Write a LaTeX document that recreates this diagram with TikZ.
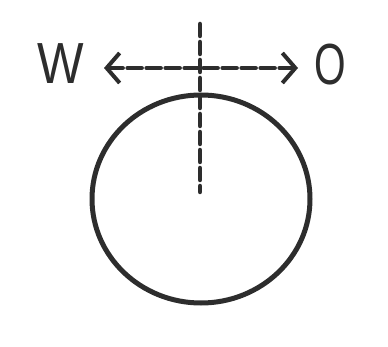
\documentclass[tikz,border=0pt]{standalone}
\usepackage{fontspec}
\setmainfont{Liberation Sans}
\usepackage{tikz}
\usetikzlibrary{arrows.meta,positioning}
\definecolor{pencil}{RGB}{45,45,45}
\tikzset{
  sketch/.style={draw=pencil,line width=4.5pt,line cap=round},
  dirlabel/.style={text=pencil,font=\fontsize{58}{58}\selectfont,inner sep=0pt},
  dirarrow/.style={sketch,{Straight Barb[length=13pt,width=30pt,line width=4pt]}-{Straight Barb[length=13pt,width=30pt,line width=4pt]}}
}

\begin{document}
\begin{tikzpicture}[x=1pt,y=-1pt]
  \useasboundingbox (0,0) rectangle (388,347);
  % body and axis
  \draw[sketch,line width=5pt] (201,199) ellipse [x radius=109,y radius=104];
  \coordinate (top) at (200,24);
  \coordinate (centre) at (200,192);
  \draw[sketch,dash pattern=on 12pt off 6pt] (top) -- (centre);
  % directions
  \node[dirlabel,xscale=0.85] (west) at (61,64) {W};
  \node[dirlabel,xscale=0.7] (east) at (330,65) {O};
  \coordinate (wtip) at (104,68);
  \coordinate (etip) at (298,68);
  \draw[dirarrow,dash pattern=on 14pt off 5pt] (wtip) -- (etip);
\end{tikzpicture}
\end{document}
